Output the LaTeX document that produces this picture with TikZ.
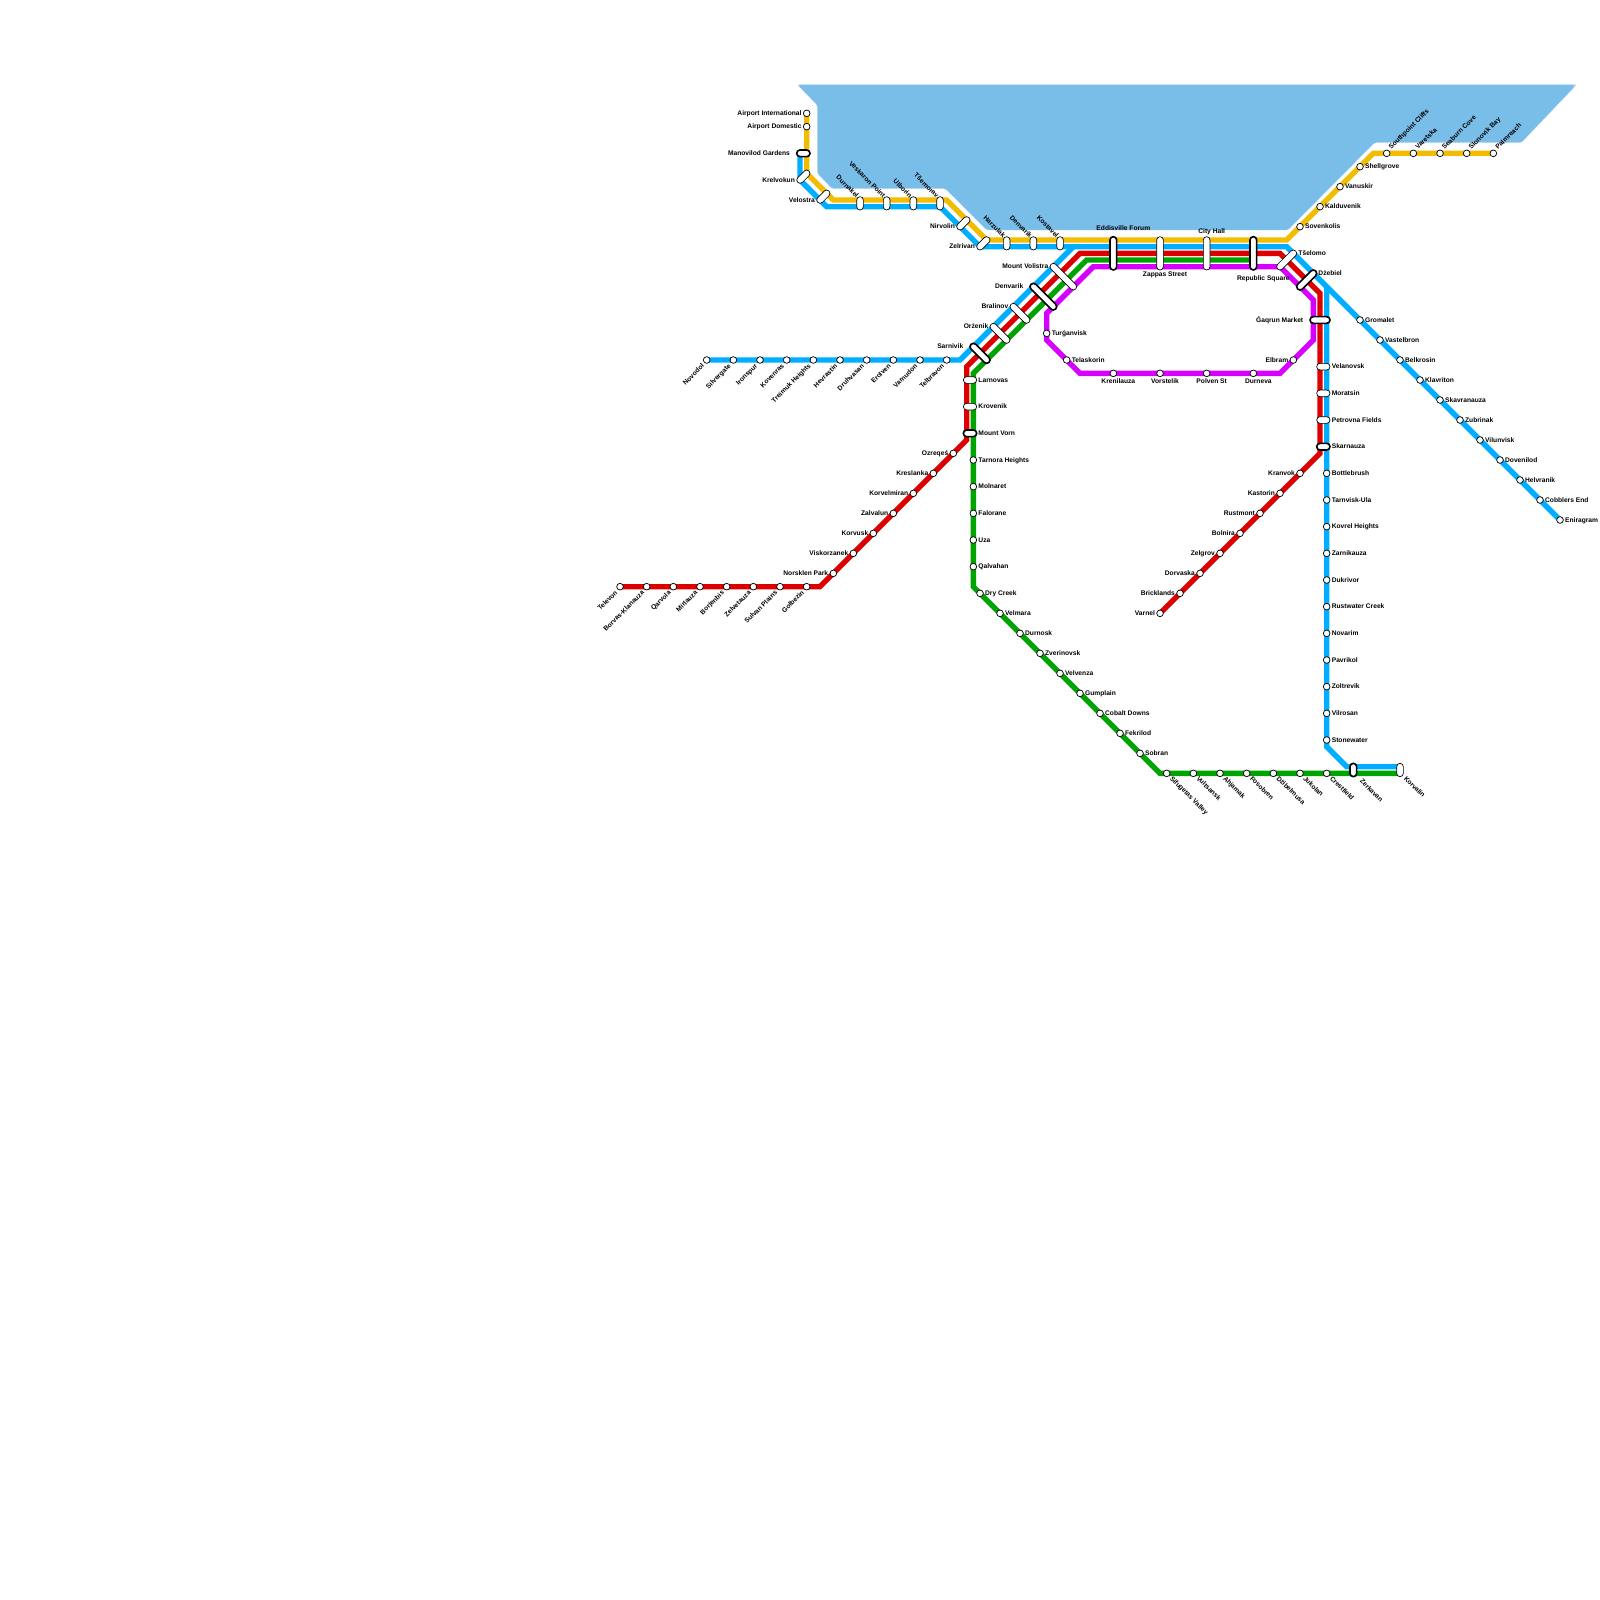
\documentclass[tikz,border=0pt]{standalone}
\usepackage{fontspec}
\setmainfont{Liberation Sans}[BoldFont={* Bold}]
\usetikzlibrary{shapes.misc,backgrounds}
\definecolor{cSea}{HTML}{79BDE9}
\definecolor{cEdge}{HTML}{C4E0F4}
\definecolor{cYel}{HTML}{F2BC00}
\definecolor{cBlu}{HTML}{00AEFF}
\definecolor{cRed}{HTML}{DD0000}
\definecolor{cGrn}{HTML}{00A400}
\definecolor{cMag}{HTML}{D600FF}
\tikzset{
  stn/.style={circle,draw=black,fill=white,line width=1.1pt,minimum size=10pt,inner sep=0pt},
  pillw/.style={rounded rectangle,draw=black,fill=white,line width=1.0pt,minimum height=10pt,inner sep=0pt,minimum width=#1},
  pillb/.style={rounded rectangle,draw=black,fill=white,line width=2.4pt,minimum height=10pt,inner sep=0pt,minimum width=#1},
  lbl/.style={font=\bfseries\fontsize{10}{10}\selectfont,inner sep=0pt,text=black,yshift=-0.5pt},
  route/.style={line width=8pt,#1},
  seashape/.style={rounded corners=2.5pt},
}
% station circle
\newcommand{\stc}[3]{\node[stn] (#1) at (#2,#3) {};}
% labels: right, left, rotated up-right (below left), rotated up-right (above right), rotated down-right
\newcommand{\lR}[4]{\node[lbl,anchor=mid west] (#1) at ({#2+0.75},#3) {#4};}
\newcommand{\lL}[4]{\node[lbl,anchor=mid east] (#1) at ({#2-0.75},#3) {#4};}
\newcommand{\lBL}[4]{\node[lbl,anchor=mid east,rotate=45] (#1) at ({#2-0.5},{#3+0.75}) {#4};}
\newcommand{\lTR}[4]{\node[lbl,anchor=mid west,rotate=45] (#1) at ({#2+0.5},{#3-0.75}) {#4};}
\newcommand{\lBR}[4]{\node[lbl,anchor=mid west,rotate=-45] (#1) at ({#2+0.6},{#3+0.6}) {#4};}
\newcommand{\lTL}[4]{\node[lbl,anchor=mid east,rotate=-45] (#1) at ({#2-0.4},{#3-1}) {#4};}
\newcommand{\lC}[4]{\node[lbl,anchor=mid] (#1) at (#2,#3) {#4};}
\begin{document}
\begin{tikzpicture}[x=10pt,y=-10pt]
\useasboundingbox (0,0) rectangle (240,240);
% ---------- Yellow line stations
\stc{airi}{121}{17}\lL{airil}{121}{17}{Airport International}
\stc{aird}{121}{19}\lL{airdl}{121}{19}{Airport Domestic}
\node[pillb=20pt] (mano) at (120.5,23) {};
\lL{manol}{119.25}{23}{Manovilod Gardens}
\node[pillw=24.1pt,rotate=45] (krel) at (120.5,26.5) {};
\lL{krell}{120}{27}{Krelvokun}
\node[pillw=24.1pt,rotate=45] (velo) at (123.5,29.5) {};
\lL{velol}{123}{30}{Velostra}
\node[pillw=20pt,rotate=90] (durn) at (129,30.5) {};
\lTL{durnl}{129}{30.5}{Durnakel}
\node[pillw=20pt,rotate=90] (vesk) at (133,30.5) {};
\lTL{veskl}{133}{30.5}{Veskaron Point}
\node[pillw=20pt,rotate=90] (ulbo) at (137,30.5) {};
\lTL{ulbol}{137}{30.5}{Ulborin}
\node[pillw=20pt,rotate=90] (tsem) at (141,30.5) {};
\lTL{tseml}{141}{30.5}{Tšemorav}
\node[pillw=24.1pt,rotate=45] (nirv) at (144.5,33.5) {};
\lL{nirvl}{144}{34}{Nirvolin}
\node[pillw=24.1pt,rotate=45] (zelr) at (147.5,36.5) {};
\lL{zelrl}{147}{37}{Zelrivan}
\node[pillw=20pt,rotate=90] (harz) at (151,36.5) {};
\lTL{harzl}{151}{36.5}{Harzulak}
\node[pillw=20pt,rotate=90] (denv) at (155,36.5) {};
\lTL{denvl}{155}{36.5}{Denvarik}
\node[pillw=20pt,rotate=90] (kost) at (159,36.5) {};
\lTL{kostl}{159}{36.5}{Kostavel}
\node[pillb=50pt,rotate=90] (eddi) at (167,38) {};
\lC{eddil}{168.5}{34.2}{Eddisville Forum}
\node[pillw=50pt,rotate=90] (zapp) at (174,38) {};
\lC{zappl}{174.75}{41.2}{Zappas Street}
\node[pillw=50pt,rotate=90] (city) at (181,38) {};
\lC{cityl}{181.75}{34.7}{City Hall}
\node[pillb=50pt,rotate=90] (repu) at (188,38) {};
\lC{repul}{189.5}{41.7}{Republic Square}
\stc{sove}{195}{34}\lR{sovel}{195}{34}{Sovenkolis}
\stc{kald}{198}{31}\lR{kaldl}{198}{31}{Kalduvenik}
\stc{vanu}{201}{28}\lR{vanul}{201}{28}{Vanuskir}
\stc{shel}{204}{25}\lR{shell}{204}{25}{Shellgrove}
\stc{sout}{208}{23}\lTR{soutl}{208}{23}{Southpoint Cliffs}
\stc{vare}{212}{23}\lTR{varel}{212}{23}{Varetska}
\stc{seab}{216}{23}\lTR{seabl}{216}{23}{Seaburn Cove}
\stc{slon}{220}{23}\lTR{slonl}{220}{23}{Slonovik Bay}
\stc{palm}{224}{23}\lTR{palml}{224}{23}{Palmreach}
% ---------- Blue west branch
\stc{novo}{106}{54}\lBL{novol}{106}{54}{Novodol}
\stc{silv}{110}{54}\lBL{silvl}{110}{54}{Silvergate}
\stc{iron}{114}{54}\lBL{ironl}{114}{54}{Ironspur}
\stc{kove}{118}{54}\lBL{kovel}{118}{54}{Kovenras}
\stc{trei}{122}{54}\lBL{treil}{122}{54}{Treimuk Heights}
\stc{hevr}{126}{54}\lBL{hevrl}{126}{54}{Hevrastin}
\stc{druz}{130}{54}\lBL{druzl}{130}{54}{Druhvasan}
\stc{erol}{134}{54}\lBL{eroll}{134}{54}{Erolven}
\stc{varn}{138}{54}\lBL{varnl}{138}{54}{Varnudon}
\stc{telb}{142}{54}\lBL{telbl}{142}{54}{Telbravon}
% ---------- Trunk interchanges
\node[pillb=38.3pt,rotate=-45] (sarn) at (147,53) {};
\lL{sarnl}{145.25}{52}{Sarnivik}
\node[pillw=38.3pt,rotate=-45] (orze) at (150,50) {};
\lL{orzel}{149}{49}{Orżenik}
\node[pillw=38.3pt,rotate=-45] (bral) at (153,47) {};
\lL{brall}{152}{46}{Bralinov}
\node[pillb=52.4pt,rotate=-45] (den2) at (156.5,44.5) {};
\lL{den2l}{154.25}{43}{Denvarik}
\node[pillw=52.4pt,rotate=-45] (moun) at (159.5,41.5) {};
\lL{mounl}{158}{40}{Mount Volistra}
\node[pillw=38.3pt,rotate=45] (tsel) at (193,39) {};
\lR{tsell}{194}{38}{Tšelomo}
\node[pillb=38.3pt,rotate=45] (dzeb) at (196,42) {};
\lR{dzebl}{197}{41}{Dżebiel}
\node[pillb=30pt] (gaqr) at (198,48) {};
\lL{gaqrl}{196.25}{48}{Ǵaqrun Market}
\node[pillw=20pt] (vela) at (198.5,55) {};
\lR{velal}{199}{55}{Velanovsk}
\node[pillw=20pt] (mora) at (198.5,59) {};
\lR{moral}{199}{59}{Moratsin}
\node[pillw=20pt] (petr) at (198.5,63) {};
\lR{petrl}{199}{63}{Petrovna Fields}
\node[pillb=20pt] (skar) at (198.5,67) {};
\lR{skarl}{199}{67}{Skarnauza}
\node[pillw=20pt] (larn) at (145.5,57) {};
\lR{larnl}{146}{57}{Larnovas}
\node[pillw=20pt] (krov) at (145.5,61) {};
\lR{krovl}{146}{61}{Krovenik}
\node[pillb=20pt] (mvor) at (145.5,65) {};
\lR{mvorl}{146}{65}{Mount Vorn}
% ---------- Blue south-east diagonal
\stc{grom}{204}{48}\lR{groml}{204}{48}{Gromalet}
\stc{vast}{207}{51}\lR{vastl}{207}{51}{Vastelbron}
\stc{belk}{210}{54}\lR{belkl}{210}{54}{Belkrosin}
\stc{klav}{213}{57}\lR{klavl}{213}{57}{Klavriton}
\stc{skav}{216}{60}\lR{skavl}{216}{60}{Skavranauza}
\stc{zubr}{219}{63}\lR{zubrl}{219}{63}{Zubrinak}
\stc{vilu}{222}{66}\lR{vilul}{222}{66}{Vilunvisk}
\stc{dove}{225}{69}\lR{dovel}{225}{69}{Dovenilod}
\stc{helv}{228}{72}\lR{helvl}{228}{72}{Helvranik}
\stc{cobb}{231}{75}\lR{cobbl}{231}{75}{Cobblers End}
\stc{enir}{234}{78}\lR{enirl}{234}{78}{Eniragram}
% ---------- Blue south branch
\stc{bott}{199}{71}\lR{bottl}{199}{71}{Bottlebrush}
\stc{tarn}{199}{75}\lR{tarnl}{199}{75}{Tarnvisk-Ula}
\stc{kovr}{199}{79}\lR{kovrl}{199}{79}{Kovrel Heights}
\stc{zarn}{199}{83}\lR{zarnl}{199}{83}{Zarnikauza}
\stc{dukr}{199}{87}\lR{dukrl}{199}{87}{Dukrivor}
\stc{rust}{199}{91}\lR{rustl}{199}{91}{Rustwater Creek}
\stc{nova}{199}{95}\lR{noval}{199}{95}{Novarim}
\stc{pavr}{199}{99}\lR{pavrl}{199}{99}{Pavrikol}
\stc{zolt}{199}{103}\lR{zoltl}{199}{103}{Zoltrevik}
\stc{vilr}{199}{107}\lR{vilrl}{199}{107}{Vilrosan}
\stc{ston}{199}{111}\lR{stonl}{199}{111}{Stonewater}
\node[pillb=20pt,rotate=90] (zerk) at (203,115.5) {};
\node[lbl,anchor=mid west,rotate=-45] (zerkl) at (204.1,117) {Zerkavan};
\node[pillw=20pt,rotate=90] (korv) at (210,115.5) {};
\node[lbl,anchor=mid west,rotate=-45] (korvl) at (210.7,116.6) {Korvalin};
% ---------- Red west
\stc{tele}{93}{88}\lBL{telel}{93}{88}{Televon}
\stc{borv}{97}{88}\lBL{borvl}{97}{88}{Borvas-Klanauza}
\stc{qarv}{101}{88}\lBL{qarvl}{101}{88}{Qarvola}
\stc{mirl}{105}{88}\lBL{mirll}{105}{88}{Mirlauza}
\stc{borj}{109}{88}\lBL{borjl}{109}{88}{Borjenbis}
\stc{zelv}{113}{88}\lBL{zelvl}{113}{88}{Zelvetauza}
\stc{sulv}{117}{88}\lBL{sulvl}{117}{88}{Sulvan Plains}
\stc{golb}{121}{88}\lBL{golbl}{121}{88}{Gołbezin}
\stc{nors}{125}{86}\lL{norsl}{125}{86}{Norsklen Park}
\stc{visk}{128}{83}\lL{viskl}{128}{83}{Viskorzanek}
\stc{korw}{131}{80}\lL{korwl}{131}{80}{Korvusk}
\stc{zalv}{134}{77}\lL{zalvl}{134}{77}{Zalvalun}
\stc{kvel}{137}{74}\lL{kvell}{137}{74}{Korvelmiran}
\stc{kres}{140}{71}\lL{kresl}{140}{71}{Kreslanka}
\stc{ozre}{143}{68}\lL{ozrel}{143}{68}{Ozreqeś}
% ---------- Red east
\stc{varl}{174}{92}\lL{varll}{174}{92}{Varnel}
\stc{bric}{177}{89}\lL{bricl}{177}{89}{Bricklands}
\stc{dorv}{180}{86}\lL{dorvl}{180}{86}{Dorvaska}
\stc{zelg}{183}{83}\lL{zelgl}{183}{83}{Zelgrov}
\stc{boln}{186}{80}\lL{bolnl}{186}{80}{Bolnira}
\stc{rstm}{189}{77}\lL{rstml}{189}{77}{Rustmont}
\stc{kast}{192}{74}\lL{kastl}{192}{74}{Kastorin}
\stc{kran}{195}{71}\lL{kranl}{195}{71}{Kranvok}
% ---------- Green
\stc{tarh}{146}{69}\lR{tarhl}{146}{69}{Tarnora Heights}
\stc{moln}{146}{73}\lR{molnl}{146}{73}{Molnaret}
\stc{falo}{146}{77}\lR{falol}{146}{77}{Falorane}
\stc{uza}{146}{81}\lR{uzal}{146}{81}{Uza}
\stc{qalv}{146}{85}\lR{qalvl}{146}{85}{Qalvahan}
\stc{dryc}{147}{89}\lR{drycl}{147}{89}{Dry Creek}
\stc{velm}{150}{92}\lR{velml}{150}{92}{Velmara}
\stc{dnos}{153}{95}\lR{dnosl}{153}{95}{Durnosk}
\stc{zver}{156}{98}\lR{zverl}{156}{98}{Zverinovsk}
\stc{velv}{159}{101}\lR{velvl}{159}{101}{Velvenza}
\stc{gump}{162}{104}\lR{gumpl}{162}{104}{Gumplain}
\stc{coba}{165}{107}\lR{cobal}{165}{107}{Cobalt Downs}
\stc{fekr}{168}{110}\lR{fekrl}{168}{110}{Fekrilod}
\stc{sobr}{171}{113}\lR{sobrl}{171}{113}{Sobran}
\stc{sifu}{175}{116}\lBR{siful}{175}{116}{Sifugetas Valley}
\stc{vult}{179}{116}\lBR{vultl}{179}{116}{Vultsansk}
\stc{ahja}{183}{116}\lBR{ahjal}{183}{116}{Ahjamak}
\stc{foso}{187}{116}\lBR{fosol}{187}{116}{Fosobren}
\stc{dzib}{191}{116}\lBR{dzibl}{191}{116}{Dżibelmusa}
\stc{juko}{195}{116}\lBR{jukol}{195}{116}{Jukolan}
\stc{cres}{199}{116}\lBR{cresl}{199}{116}{Crestfield}
% ---------- Magenta
\stc{turg}{157}{50}\lR{turgl}{157}{50}{Turǵanvisk}
\stc{tela}{160}{54}\lR{telal}{160}{54}{Telaskorin}
\stc{kren}{167}{56}\lC{krenl}{167.75}{57.2}{Krenilauza}
\stc{vors}{174}{56}\lC{vorsl}{174.75}{57.2}{Vorstelik}
\stc{polv}{181}{56}\lC{polvl}{181.75}{57.2}{Polven St}
\stc{dure}{188}{56}\lC{durel}{188.75}{57.2}{Durneva}
\stc{elbr}{194}{54}\lL{elbrl}{194}{54}{Elbram}
% ---------- Bends
\coordinate (yA) at (121,26);
\coordinate (yB) at (125,30);
\coordinate (yC) at (142,30);
\coordinate (yD) at (148,36);
\coordinate (yE) at (193,36);
\coordinate (yF) at (206,23);
\coordinate (bTop) at (120,23);
\coordinate (bA) at (120,27);
\coordinate (bB) at (124,31);
\coordinate (bC) at (141,31);
\coordinate (bD) at (147,37);
\coordinate (bE) at (193,37);
\coordinate (bW) at (144,54);
\coordinate (bM) at (161,37);
\coordinate (bS) at (199,43);
\coordinate (bT) at (199,112);
\coordinate (bU) at (202,115);
\coordinate (bV) at (210,115);
\coordinate (rA) at (123,88);
\coordinate (rB) at (145,66);
\coordinate (rC) at (145,55);
\coordinate (rD) at (162,38);
\coordinate (rE) at (192,38);
\coordinate (rF) at (198,44);
\coordinate (rG) at (198,68);
\coordinate (gA) at (188,39);
\coordinate (gB) at (163,39);
\coordinate (gC) at (146,56);
\coordinate (gD) at (146,88);
\coordinate (gE) at (174,116);
\coordinate (gF) at (210,116);
\coordinate (mA) at (164,40);
\coordinate (mB) at (192,40);
\coordinate (mC) at (197,45);
\coordinate (mD) at (197,51);
\coordinate (mE) at (192,56);
\coordinate (mF) at (162,56);
\coordinate (mG) at (157,51);
\coordinate (mH) at (157,47);
\begin{pgfonlayer}{background}
  \fill[cSea,seashape] (119.6,12.7) -- (122.6,15.8) -- (122.6,26) -- (124.8,28.3) -- (141.8,28.3)
     -- (148,34.5) -- (193.2,34.5) -- (206.2,21.4) -- (228.2,21.4) -- (236.3,12.9) -- (236.3,12.7) -- cycle;
  \draw[cEdge,seashape,line width=0.6pt,dash pattern=on 3pt off 3pt] (119.6,12.7) -- (122.6,15.8) -- (122.6,26) -- (124.8,28.3) -- (141.8,28.3)
     -- (148,34.5) -- (193.2,34.5) -- (206.2,21.4) -- (228.2,21.4) -- (236.3,12.9) -- (236.3,12.7) -- cycle;
  \draw[route=cYel] (airi.center) -- (yA) -- (yB) -- (yC) -- (yD) -- (yE) -- (yF) -- (palm.center);
  \draw[route=cBlu] (bTop) -- (bA) -- (bB) -- (bC) -- (bD) -- (bE) -- (enir.center);
  \draw[route=cBlu] (novo.center) -- (bW) -- (bM);
  \draw[route=cBlu] (bS) -- (bT) -- (bU) -- (bV);
  \draw[route=cRed] (tele.center) -- (rA) -- (rB) -- (rC) -- (rD) -- (rE) -- (rF) -- (rG) -- (varl.center);
  \draw[route=cGrn] (gA) -- (gB) -- (gC) -- (gD) -- (gE) -- (gF);
  \draw[route=cMag] (mA) -- (mB) -- (mC) -- (mD) -- (mE) -- (mF) -- (mG) -- (mH) -- cycle;
\end{pgfonlayer}
\end{tikzpicture}
\end{document}
